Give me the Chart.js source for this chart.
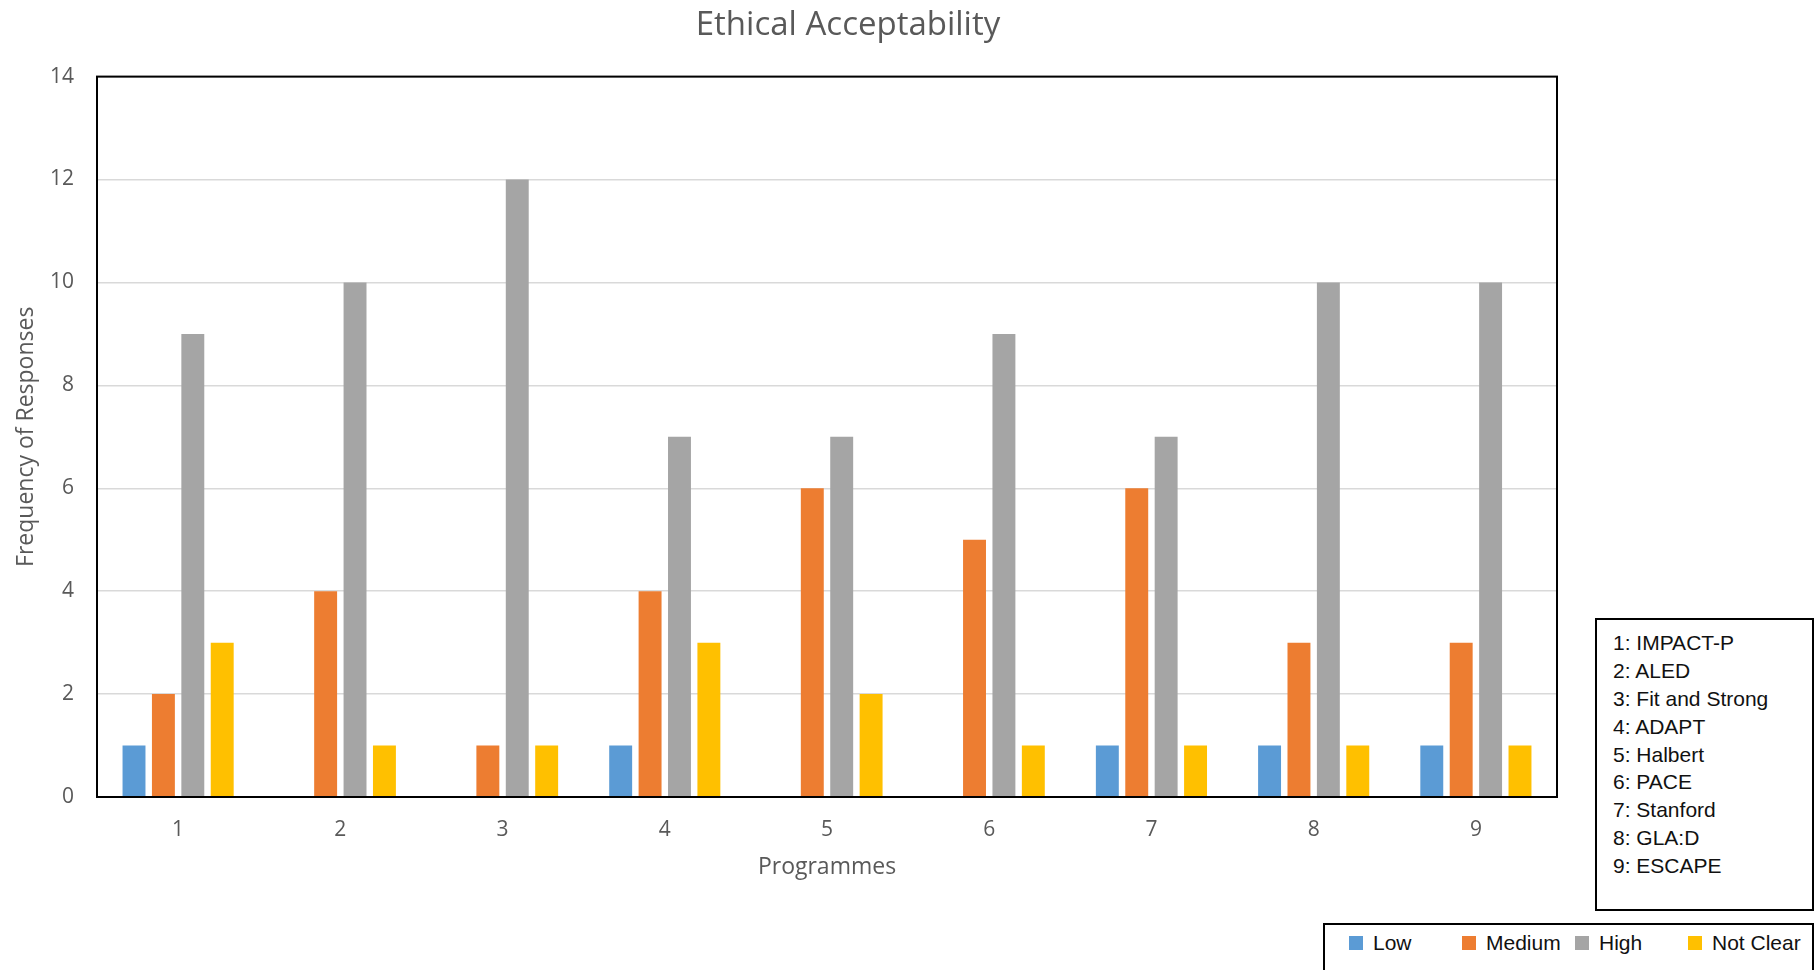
<!DOCTYPE html>
<html>
<head>
<meta charset="utf-8">
<title>Ethical Acceptability</title>
<script src="https://cdn.jsdelivr.net/npm/chart.js@4.4.1/dist/chart.umd.min.js"></script>
<style>
  body { margin: 0; background: #fff; overflow: hidden; width: 1814px; height: 970px; position: relative; }
  #wrap { position: absolute; left: 0; top: 0; width: 1696px; height: 970px; }
  .box { position: absolute; border: 2px solid #000; background: #fff; box-sizing: border-box;
         font-family: "Liberation Sans", Arial, sans-serif; font-size: 21px; color: #111; }
  #progBox { left: 1595px; top: 618px; width: 219px; height: 293px; padding: 9px 0 0 16px; }
  #progBox div { height: 27.9px; line-height: 27.9px; white-space: nowrap; }
  #serieBox { left: 1323px; top: 923px; width: 491px; height: 60px; padding: 4px 0 0 24px; display: flex; }
  #serieBox .item { width: 113px; display: flex; align-items: center; height: 28px; white-space: nowrap; }
  #serieBox .sq { width: 14px; height: 14px; margin-right: 10px; flex: none; }
</style>
</head>
<body>
<div id="wrap"><canvas id="grafico"></canvas></div>
<div class="box" id="progBox"></div>
<div class="box" id="serieBox"></div>

<script>
const programas = ['1', '2', '3', '4', '5', '6', '7', '8', '9'];
const nomesProgramas = ['IMPACT-P', 'ALED', 'Fit and Strong', 'ADAPT', 'Halbert', 'PACE', 'Stanford', 'GLA:D', 'ESCAPE'];

const baixo = [1, 0, 0, 1, 0, 0, 1, 1, 1];
const medio = [2, 4, 1, 4, 6, 5, 6, 3, 3];
const alto = [9, 10, 12, 7, 7, 9, 7, 10, 10];
const naoClaro = [3, 1, 1, 3, 2, 1, 1, 1, 1];

const ticksY = [0, 2, 4, 6, 8, 10, 12, 14];

// moldura preta em volta da area do grafico
const moldura = {
  id: 'moldura',
  afterDatasetsDraw(chart) {
    const a = chart.chartArea;
    const ctx = chart.ctx;
    ctx.save();
    ctx.strokeStyle = '#000';
    ctx.lineWidth = 2;
    ctx.strokeRect(a.left, a.top, a.right - a.left, a.bottom - a.top);
    ctx.restore();
  }
};

function desenhaGrafico() {
  const ctx = document.getElementById('grafico').getContext('2d');

  return new Chart(ctx, {
    type: 'bar',
    data: {
      labels: programas,
      datasets: [
        { label: 'Low', data: baixo, backgroundColor: '#5B9BD5' },
        { label: 'Medium', data: medio, backgroundColor: '#ED7D31' },
        { label: 'High', data: alto, backgroundColor: '#A5A5A5' },
        { label: 'Not Clear', data: naoClaro, backgroundColor: '#FFC000' },
      ],
    },
    options: {
      responsive: true,
      maintainAspectRatio: false,
      animation: false,
      categoryPercentage: 0.725,
      barPercentage: 0.78,
      layout: { padding: { left: 0, top: 0, right: 0, bottom: 89 } },
      plugins: {
        legend: { display: false },
        tooltip: { enabled: false },
        title: {
          display: true,
          text: 'Ethical Acceptability',
          color: '#595959',
          font: { family: 'Open Sans', size: 33, weight: 'normal' },
          padding: { top: 6, bottom: 31 },
        },
      },
      scales: {
        x: {
          grid: { display: false, drawTicks: false },
          border: { display: false },
          ticks: { color: '#595959', font: { family: 'Open Sans', size: 21 }, padding: 20 },
          title: {
            display: true,
            text: 'Programmes',
            color: '#595959',
            font: { family: 'Open Sans', size: 23 },
            padding: { top: 0, bottom: 0 },
          },
          afterFit: (scale) => { scale.height = 84; },
        },
        y: {
          min: ticksY[0],
          max: ticksY[ticksY.length - 1],
          afterBuildTicks: (scale) => { scale.ticks = ticksY.map(v => ({ value: v })); },
          grid: { color: '#D9D9D9', lineWidth: 1.5, drawTicks: false },
          border: { display: false },
          ticks: { color: '#595959', font: { family: 'Open Sans', size: 21 }, padding: 23 },
          title: {
            display: true,
            text: 'Frequency of Responses',
            color: '#595959',
            font: { family: 'Open Sans', size: 23 },
            padding: { top: 13, bottom: 0 },
          },
          afterFit: (scale) => { scale.width = 97; },
        },
        y2: {
          position: 'right',
          display: true,
          grid: { display: false },
          border: { display: false },
          ticks: { display: false },
          afterFit: (scale) => { scale.width = 139; },
        },
      },
    },
    plugins: [moldura],
  });
}

function desenhaLegendas(chart) {
  const progBox = document.getElementById('progBox');
  for (let i = 0; i < programas.length; i++) {
    const linha = document.createElement('div');
    linha.innerText = programas[i] + ': ' + nomesProgramas[i];
    progBox.append(linha);
  }

  const serieBox = document.getElementById('serieBox');
  chart.data.datasets.forEach((ds) => {
    const item = document.createElement('div');
    item.className = 'item';
    const sq = document.createElement('span');
    sq.className = 'sq';
    sq.style.background = ds.backgroundColor;
    const txt = document.createElement('span');
    txt.innerText = ds.label;
    item.append(sq, txt);
    serieBox.append(item);
  });
}

window.addEventListener('load', () => {
  const chart = desenhaGrafico();
  desenhaLegendas(chart);
});
</script>
</body>
</html>
